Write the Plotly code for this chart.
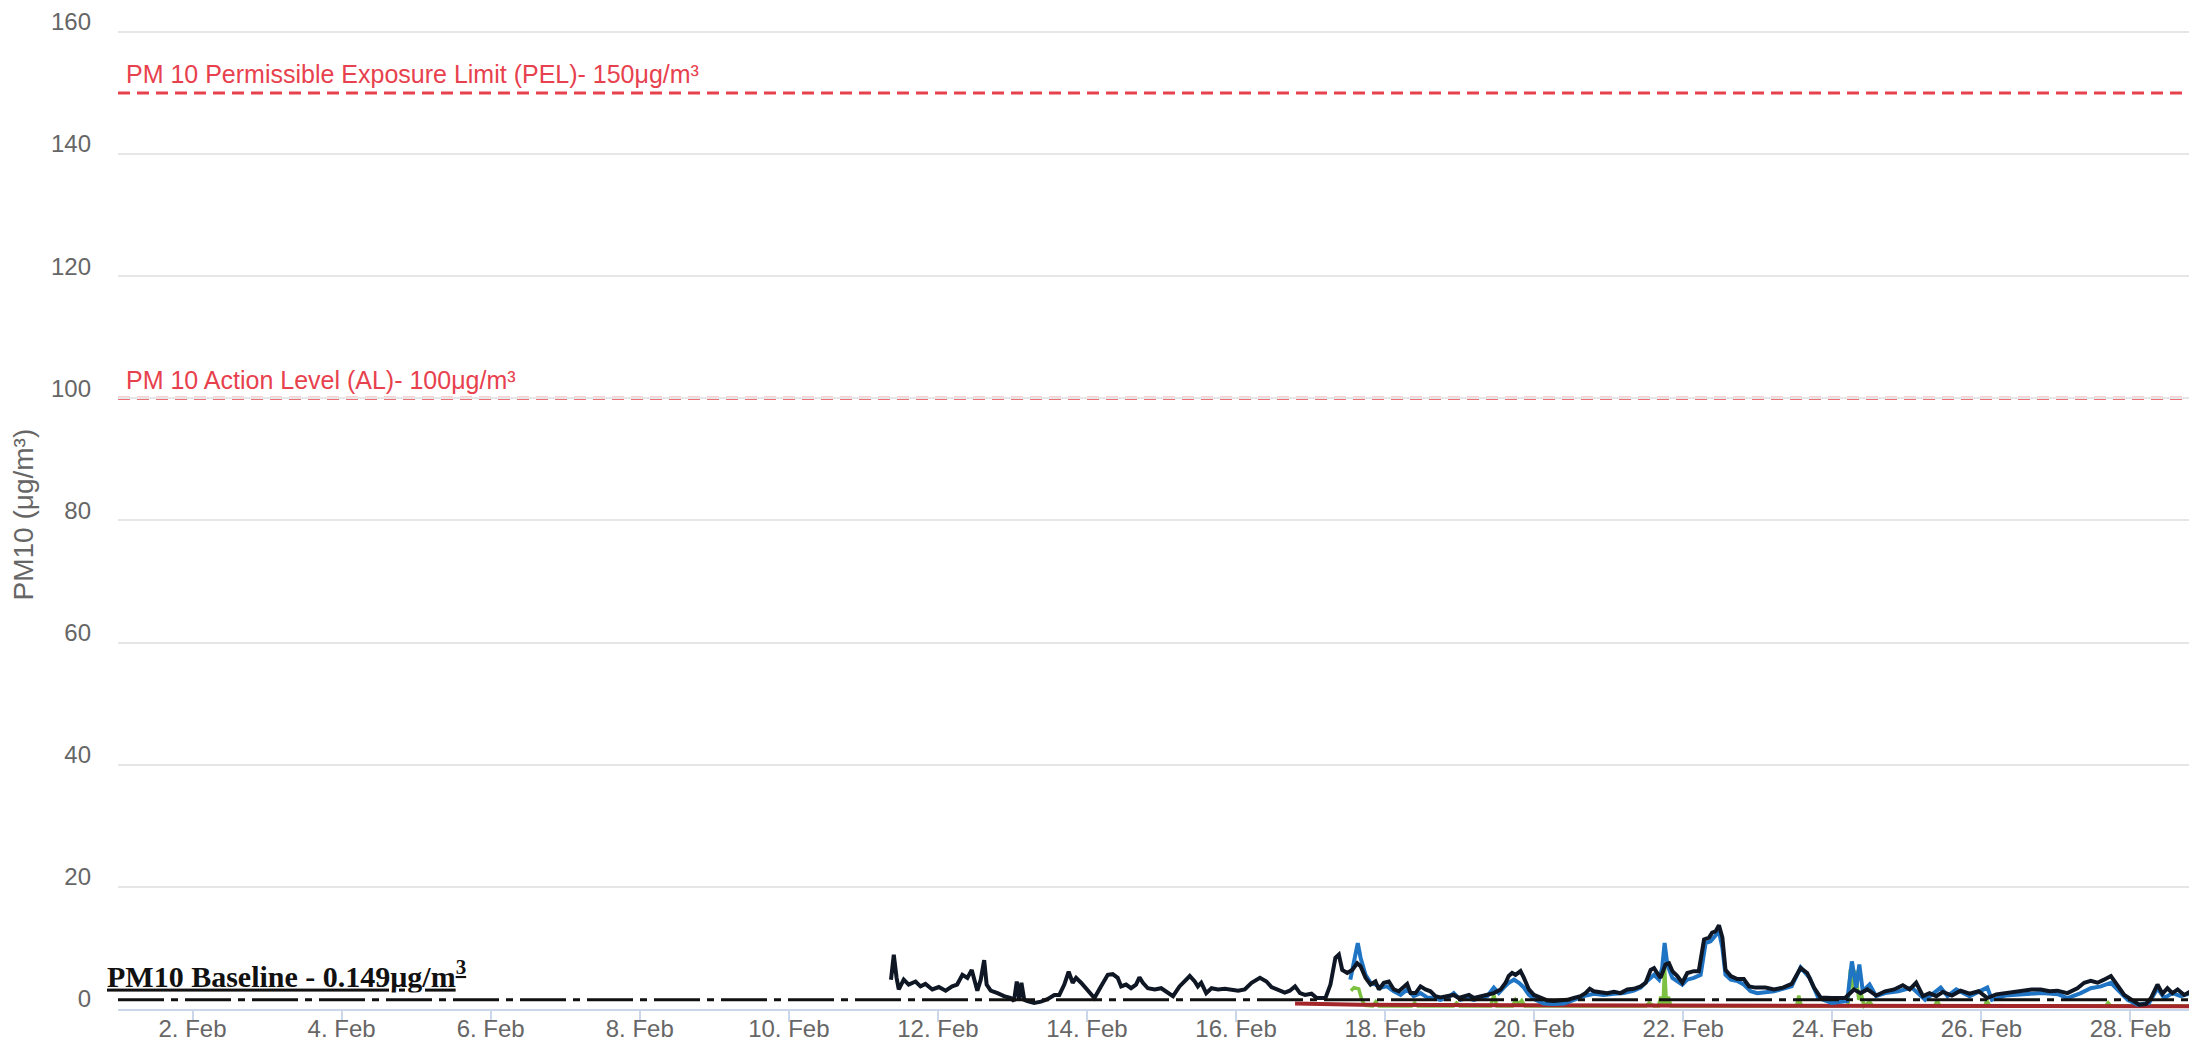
import plotly.graph_objects as go
import pandas as pd

START = pd.Timestamp("2023-02-01 00:00")

# PM10 monitors: hours since 1 Feb 00:00 and readings (µg/m³)
black_hours = [248.9, 249.8, 250.7, 251.4, 253.0, 254.6, 256.8, 258.4, 260.0, 262.2,
               264.3, 266.5, 268.6, 270.2, 271.9, 273.5, 274.9, 275.6, 276.7, 277.8,
               278.9, 279.7, 281.0, 283.2, 285.3, 287.5, 288.5, 289.4, 290.2, 290.9,
               291.8, 292.8, 295.0, 297.2, 299.3, 301.5, 303.1, 304.7, 306.1, 307.4,
               308.5, 310.1, 312.2, 314.4, 316.5, 318.7, 320.3, 321.9, 323.0, 324.6,
               326.2, 327.8, 328.9, 330.0, 331.6, 333.8, 335.9, 338.1, 339.7, 341.8,
               343.4, 345.1, 346.7, 347.7, 348.8, 350.4, 352.1, 354.2, 356.4, 358.5,
               360.7, 362.8, 365.0, 367.7, 369.8, 371.4, 373.6, 375.7, 377.3, 379.0,
               380.6, 382.2, 384.3, 386.0, 388.8, 390.4, 392.0, 393.1, 394.2, 395.8,
               397.4, 399.0, 400.1, 401.7, 403.3, 404.9, 406.0, 407.6, 409.2, 410.8,
               412.4, 414.0, 415.1, 416.2, 417.8, 419.4, 421.0, 422.6, 424.2, 425.8,
               428.0, 430.1, 431.7, 433.4, 435.0, 436.6, 438.7, 440.9, 443.0, 445.2,
               446.8, 447.8, 448.9, 450.0, 451.6, 452.7, 454.3, 455.9, 458.0, 460.2,
               462.3, 464.5, 466.6, 468.8, 470.9, 472.5, 473.9, 475.2, 477.4, 479.5,
               481.7, 483.8, 486.0, 488.1, 490.3, 491.9, 493.5, 494.6, 495.6, 496.7,
               498.3, 499.4, 500.5, 502.1, 503.7, 505.3, 507.4, 509.0, 510.7, 512.3,
               513.3, 514.4, 515.5, 516.6, 517.6, 519.3, 521.4, 523.5, 525.2, 527.3,
               530.5, 533.2, 536.1, 538.9, 541.8, 543.9, 546.1, 548.2, 551.8, 556.1,
               559.0, 561.1, 563.3, 566.1, 569.0, 571.9, 574.7, 576.9, 579.0, 581.2,
               583.3, 585.5, 587.6, 590.5, 593.3, 596.2, 599.1, 601.9, 604.8, 607.7,
               610.5, 613.4, 616.2, 619.1, 622.0, 624.5, 627.7, 630.9, 633.1, 635.2,
               637.4, 639.5, 641.7, 642.8, 644.4, 646.0, 648.7, 650.8, 653.0, 654.6,
               656.7, 658.3, 659.9, 661.5, 663.2, 665.3, 667.5, 669.1, 670.7, 671.9]
black_vals = [4.8, 8.9, 5.1, 3.2, 4.8, 4.0, 4.5, 3.7, 4.1, 3.2,
              3.6, 3.0, 3.7, 4.0, 5.6, 5.1, 6.4, 5.1, 3.0, 4.8,
              8.0, 4.0, 3.0, 2.6, 2.1, 1.8, 1.3, 4.5, 1.5, 4.3,
              1.5, 1.3, 1.0, 1.2, 1.6, 2.3, 2.3, 4.0, 6.1, 4.3,
              5.1, 4.3, 3.0, 1.8, 3.7, 5.6, 5.7, 5.1, 3.7, 4.0,
              3.4, 4.0, 5.2, 4.3, 3.4, 3.2, 3.4, 2.6, 2.1, 3.7,
              4.5, 5.4, 4.5, 3.7, 4.3, 2.6, 3.4, 3.2, 3.3, 3.2,
              3.0, 3.2, 4.3, 5.1, 4.5, 3.6, 3.2, 2.7, 3.0, 3.7,
              2.6, 2.3, 2.5, 1.8, 1.8, 4.0, 8.4, 8.9, 6.4, 5.9,
              6.4, 7.5, 7.0, 5.1, 4.0, 4.5, 3.2, 4.3, 4.5, 3.2,
              2.9, 3.7, 4.1, 2.6, 2.6, 3.7, 3.2, 2.9, 2.1, 1.9,
              2.1, 2.3, 1.8, 2.0, 2.3, 1.8, 2.1, 2.3, 2.6, 3.2,
              4.3, 5.4, 5.9, 5.6, 6.2, 5.1, 3.2, 2.3, 1.8, 1.4,
              1.3, 1.4, 1.5, 1.8, 2.1, 2.6, 3.3, 2.9, 2.8, 2.6,
              2.8, 2.6, 3.2, 3.3, 3.7, 4.3, 6.4, 6.7, 5.9, 5.1,
              7.3, 7.5, 6.2, 5.4, 4.3, 5.9, 6.2, 6.2, 11.4, 11.7,
              12.5, 12.7, 13.7, 11.7, 6.4, 5.4, 4.9, 4.9, 3.7, 3.5,
              3.5, 3.2, 3.5, 4.1, 6.7, 5.9, 3.5, 1.9, 1.8, 1.8,
              3.2, 2.6, 3.2, 2.2, 2.9, 3.2, 3.9, 3.2, 4.3, 2.1,
              2.6, 2.1, 2.8, 2.2, 3.0, 2.5, 2.9, 1.8, 2.4, 2.6,
              2.9, 3.0, 3.2, 3.2, 2.9, 3.0, 2.6, 3.4, 4.3, 4.6,
              4.3, 4.8, 5.4, 4.6, 3.4, 2.3, 1.4, 0.7, 0.8, 1.8,
              4.0, 2.5, 3.4, 2.6, 3.2, 2.3, 2.9, 2.1, 2.9, 3.4]

blue_hours = [396.8, 398.5, 399.2, 400.1, 401.7, 403.3, 404.9, 406.5, 408.6, 410.8,
              413.0, 415.1, 417.2, 419.4, 421.5, 423.7, 425.8, 428.0, 430.1, 432.3,
              434.4, 436.6, 438.7, 440.9, 443.0, 444.6, 446.2, 447.8, 449.5, 451.1,
              452.7, 454.3, 456.4, 459.1, 462.3, 465.6, 468.8, 472.0, 475.2, 478.4,
              481.7, 484.9, 488.1, 490.3, 492.4, 494.6, 496.2, 497.2, 498.0, 498.9,
              500.5, 502.1, 503.7, 505.3, 507.4, 509.6, 511.2, 512.8, 514.4, 515.5,
              516.6, 517.6, 519.3, 521.4, 523.5, 525.7, 527.8, 530.5, 533.2, 538.9,
              541.8, 544.7, 547.5, 551.8, 556.8, 558.3, 559.7, 560.7, 561.8, 564.0,
              566.1, 569.0, 573.3, 577.6, 581.9, 586.9, 589.1, 591.9, 596.2, 601.9,
              603.4, 607.7, 613.4, 619.1, 624.8, 627.7, 632.0, 635.2, 638.5, 641.7,
              644.4, 647.1, 650.3, 654.0, 656.7, 658.9, 661.5, 664.2, 667.5, 670.7]
blue_vals = [4.8, 9.2, 10.8, 8.4, 5.6, 4.3, 4.0, 3.5, 3.7, 2.9,
             2.3, 3.2, 2.1, 2.6, 1.9, 1.8, 1.5, 1.8, 2.6, 1.5,
             1.8, 1.5, 1.8, 2.1, 3.5, 2.6, 3.5, 4.3, 4.8, 4.3,
             3.5, 2.3, 1.5, 0.9, 0.8, 0.9, 1.5, 2.1, 2.5, 2.3,
             2.5, 2.6, 3.0, 3.5, 4.6, 5.6, 4.8, 6.7, 10.8, 7.2,
             5.1, 4.6, 4.0, 4.8, 5.1, 5.6, 10.8, 11.1, 12.2, 12.7,
             10.0, 5.6, 4.8, 4.6, 4.0, 2.9, 2.6, 2.7, 2.9, 3.7,
             6.8, 5.1, 1.8, 1.0, 1.3, 7.8, 3.5, 7.3, 2.9, 4.0,
             2.1, 2.6, 2.9, 3.5, 1.5, 3.5, 2.1, 3.2, 2.1, 3.5,
             1.5, 2.2, 2.4, 2.6, 2.4, 1.8, 2.6, 3.4, 3.7, 4.3,
             2.9, 1.5, 0.7, 1.0, 3.4, 1.8, 2.6, 2.1, 2.6, 3.4]

green_hours = [397.0, 398.0, 399.5, 400.5, 401.5, 404.0, 405.0, 406.0, 416.5, 417.5,
               418.5, 430.0, 431.0, 432.0, 442.0, 443.0, 444.0, 449.0, 450.0, 451.0,
               452.0, 453.0, 492.0, 493.0, 494.5, 496.0, 496.8, 497.5, 498.0, 498.6,
               499.2, 500.0, 540.5, 541.2, 542.0, 557.0, 557.8, 558.8, 559.6, 560.5,
               561.3, 562.2, 564.0, 565.0, 585.0, 585.8, 586.6, 601.0, 601.8, 602.6,
               640.0, 640.8, 641.6, 668.5, 670.0, 671.9]
green_vals = [3.0, 3.5, 3.3, 1.5, 0.6, 0.5, 1.2, 0.5, 0.5, 1.0,
              0.5, 0.5, 1.0, 0.5, 0.5, 2.3, 0.5, 0.5, 1.5, 0.8,
              1.4, 0.5, 0.5, 1.0, 0.5, 0.5, 2.0, 0.8, 6.8, 0.6,
              2.0, 0.5, 0.5, 2.2, 0.5, 0.5, 6.5, 3.0, 6.3, 1.5,
              2.5, 0.5, 1.2, 0.5, 0.5, 1.4, 0.5, 0.5, 1.4, 0.5,
              0.5, 1.0, 0.5, 0.5, 1.6, 1.8]

red_hours = [379.0, 400.0, 450.0, 500.0, 560.0, 620.0, 668.0]
red_vals = [0.9, 0.7, 0.6, 0.55, 0.5, 0.45, 0.45]

# Reference levels
pel_level = 150
al_level = 100
baseline_level = 1.5

y_ticks = [0, 20, 40, 60, 80, 100, 120, 140, 160]

pel_text = "PM 10 Permissible Exposure Limit (PEL)- 150μg/m³"
al_text = "PM 10 Action Level (AL)- 100μg/m³"
baseline_text = "<b><u>PM10 Baseline - 0.149μg/m<sup>3</sup></u></b>"
y_title = "PM10 (μg/m³)"


def to_time(hours):
    return [START + pd.Timedelta(hours=h) for h in hours]


fig = go.Figure()
series = [
    (green_hours, green_vals, "#7dc142", 3.5),
    (red_hours, red_vals, "#a3262b", 4),
    (blue_hours, blue_vals, "#1f74c4", 4),
    (black_hours, black_vals, "#0f1624", 4),
]
for hrs, vals, col, w in series:
    fig.add_trace(go.Scatter(x=to_time(hrs), y=vals, mode="lines",
                             line=dict(color=col, width=w), hoverinfo="skip"))

red = "#e8414e"
for lvl in (pel_level, al_level):
    fig.add_shape(type="line", xref="paper", x0=0, x1=1, yref="y", y0=lvl, y1=lvl,
                  line=dict(color=red, width=3, dash="12px,7px"), layer="between")

fig.add_shape(type="line", xref="paper", x0=0, x1=1, yref="y", y0=baseline_level, y1=baseline_level,
              line=dict(color="#111111", width=3, dash="46px,7px,7px,7px"), layer="above")

fig.add_annotation(x=0, xref="paper", xanchor="left", xshift=6, y=pel_level, yref="y",
                   yanchor="bottom", yshift=3, text=pel_text, showarrow=False,
                   font=dict(family="Liberation Sans, Arial, sans-serif", size=25, color=red))
fig.add_annotation(x=0, xref="paper", xanchor="left", xshift=6, y=al_level, yref="y",
                   yanchor="bottom", yshift=2, text=al_text, showarrow=False,
                   font=dict(family="Liberation Sans, Arial, sans-serif", size=25, color=red))
fig.add_annotation(x=0, xref="paper", xanchor="left", xshift=-13, y=baseline_level, yref="y",
                   yanchor="bottom", yshift=5, text=baseline_text, showarrow=False,
                   width=420, align="left",
                   font=dict(family="Liberation Serif, Times New Roman, serif", size=30, color="#111111"))
fig.add_annotation(x=0, xref="paper", xanchor="center", xshift=-95, y=0.5, yref="paper",
                   yanchor="middle", yshift=-6, text=y_title, textangle=-90, showarrow=False,
                   font=dict(family="Liberation Sans, Arial, sans-serif", size=28, color="#666666"))

fig.update_layout(
    width=2197, height=1043,
    margin=dict(l=110, r=0, t=0, b=42),
    plot_bgcolor="white", paper_bgcolor="white",
    showlegend=False,
    font=dict(family="Liberation Sans, Arial, sans-serif", size=24, color="#666666"),
)
fig.update_xaxes(
    type="date",
    range=[START, START + pd.Timedelta(days=28)],
    tickmode="linear", tick0="2023-02-02", dtick=2 * 86400000,
    tickformat="%-d. %b",
    ticks="outside", ticklen=11, tickwidth=2, tickcolor="#ccd6eb",
    showline=True, linecolor="#ccd6eb", linewidth=2,
    showgrid=False, zeroline=False,
    ticklabelstandoff=-14,
    tickfont=dict(size=24, color="#666666"),
)
fig.update_yaxes(
    range=[0, 163.9],
    tickmode="array", tickvals=y_ticks,
    showgrid=True, gridcolor="#e6e6e6", gridwidth=2,
    zeroline=False, showline=False, ticks="",
    ticklabelstandoff=26, ticklabelshift=-10,
    tickfont=dict(size=24, color="#666666"),
)

fig.write_html("out.html")
